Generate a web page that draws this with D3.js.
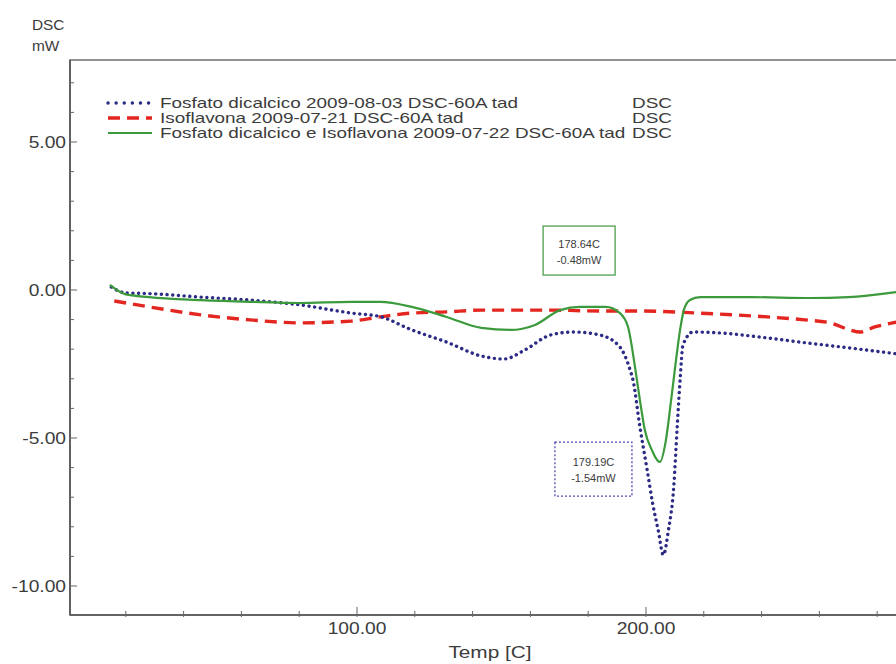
<!DOCTYPE html>
<html>
<head>
<meta charset="utf-8">
<script src="https://cdn.jsdelivr.net/npm/d3@7"></script>
<style>
  body { margin: 0; background: #fff; }
  text { font-family: "Liberation Sans", Arial, sans-serif; fill: #3c3c3c; }
</style>
</head>
<body>
<div id="chart"></div>
<script>
"use strict";

// DSC curves, temperature in C, heat flow in mW
const fosfatoTemp = [15, 20, 28, 46, 63, 80, 98, 108, 119, 131, 143, 151, 158, 167, 175, 184, 191, 194.5, 195.5, 197.9,
    200.4, 202.4, 204.2, 206, 207.8, 209.6, 210.8, 211.8, 212.8, 216.3, 225.6, 239.5, 253.3, 270.6, 287];
const fosfatoDSC = [0.1, -0.1, -0.12, -0.24, -0.34, -0.5, -0.78, -0.9, -1.35, -1.76, -2.23, -2.33, -2.03, -1.52, -1.42, -1.52, -1.93, -2.7, -3.04, -4.63,
    -6.08, -7.26, -8.1, -8.95, -8.1, -6.66, -4.63, -3.04, -1.86, -1.42, -1.45, -1.59, -1.76, -1.96, -2.16];

const isoTemp = [16, 28, 46, 63, 80, 98, 108, 119, 131, 143, 167, 184, 198, 218, 242, 255, 263.7, 270.6, 274, 279.2, 287];
const isoDSC = [-0.37, -0.57, -0.84, -1.01, -1.11, -1.05, -0.91, -0.78, -0.74, -0.68, -0.68, -0.71, -0.71, -0.78, -0.91, -1.01, -1.11, -1.35, -1.42, -1.25, -1.08];

const mixTemp = [14.5, 19.7, 28, 46, 63, 80, 98, 108, 119, 131, 143, 153, 161.6, 170.3, 177.2, 186, 191, 193.8, 196.2, 197.9,
    199.6, 202, 204.8, 206.9, 208.7, 210.4, 211.8, 213.1, 215.2, 218.7, 236, 257, 270, 281, 287];
const mixDSC = [0.17, -0.14, -0.24, -0.34, -0.4, -0.44, -0.4, -0.4, -0.57, -0.91, -1.28, -1.35, -1.18, -0.68, -0.57, -0.57, -0.78, -1.25, -2.6, -3.72,
    -4.73, -5.4, -5.81, -5.07, -3.72, -2.36, -1.35, -0.68, -0.34, -0.24, -0.24, -0.27, -0.24, -0.14, -0.07];

const seriesNames = [
    "Fosfato dicalcico 2009-08-03 DSC-60A tad",
    "Isoflavona 2009-07-21 DSC-60A tad",
    "Fosfato dicalcico e Isoflavona 2009-07-22 DSC-60A tad",
];
const seriesColors = ["#2b2b86", "#e3261f", "#3b9a3b"];

const yTicks = [5, 0, -5, -10];
const xTicks = [100, 200];

// peak annotation boxes (anchor temp / value, text lines)
const notes = [
    { t: 164.4, v: 2.16, lines: ["178.64C", "-0.48mW"], color: "#4f9f4f", dash: null, w: 72, h: 49 },
    { t: 168.5, v: -5.14, lines: ["179.19C", "-1.54mW"], color: "#4a4ab0", dash: "2 2", w: 77, h: 54 },
];

const W = 896;
const H = 664;
const SX = 1.2; // the source picture is stretched sideways

const svg = d3.select("#chart").append("svg")
    .attr("width", W)
    .attr("height", H);

const x = d3.scaleLinear().domain([0.69, 287.9]).range([70, 900]);
const y = d3.scaleLinear().domain([-10.98, 7.77]).range([615, 60]);

function label(parent, px, py, txt, anchor, size, sx = SX) {
    return parent.append("g")
        .attr("transform", `translate(${px},${py}) scale(${sx},1)`)
        .append("text")
        .attr("text-anchor", anchor)
        .attr("font-size", size)
        .text(txt);
}

// frame
svg.append("rect")
    .attr("x", 70).attr("y", 60)
    .attr("width", 840).attr("height", 555)
    .attr("fill", "none")
    .attr("stroke", "#777")
    .attr("stroke-width", 1.6);
svg.append("line")
    .attr("x1", 70).attr("x2", 70).attr("y1", 60).attr("y2", 615)
    .attr("stroke", "#555").attr("stroke-width", 1.6);
svg.append("line")
    .attr("x1", 70).attr("x2", 900).attr("y1", 615).attr("y2", 615)
    .attr("stroke", "#555").attr("stroke-width", 1.6);

// y ticks
const yMinor = d3.range(-10, 8, 1);
svg.append("g").selectAll("line").data(yMinor).join("line")
    .attr("x1", 70).attr("x2", d => yTicks.includes(d) ? 77 : 74)
    .attr("y1", d => y(d)).attr("y2", d => y(d))
    .attr("stroke", "#666");
yTicks.forEach(d => label(svg, 66, y(d) + 6, d.toFixed(2), "end", 16));

// x ticks
const xMinor = d3.range(20, 281, 20);
svg.append("g").selectAll("line").data(xMinor).join("line")
    .attr("x1", d => x(d)).attr("x2", d => x(d))
    .attr("y1", d => xTicks.includes(d) ? 607 : 611).attr("y2", 617)
    .attr("stroke", "#666");
xTicks.forEach(d => label(svg, x(d), 634, d.toFixed(2), "middle", 16));

label(svg, 490, 658, "Temp  [C]", "middle", 16, 1.3);
label(svg, 32, 30, "DSC", "start", 14, 1.1);
label(svg, 32, 51, "mW", "start", 14, 1.1);

// curves
const line = d3.line()
    .x(d => x(d[0]))
    .y(d => y(d[1]))
    .curve(d3.curveMonotoneX);

const series = [
    d3.zip(fosfatoTemp, fosfatoDSC),
    d3.zip(isoTemp, isoDSC),
    d3.zip(mixTemp, mixDSC),
];
const styles = [
    { width: 3.4, dash: "0.1 5.6", cap: "round" },
    { width: 3.4, dash: "12 7", cap: "butt" },
    { width: 2.2, dash: null, cap: "butt" },
];

const plot = svg.append("g");
[1, 0, 2].forEach(i => {
    plot.append("path")
        .datum(series[i])
        .attr("d", line)
        .attr("fill", "none")
        .attr("stroke", seriesColors[i])
        .attr("stroke-width", styles[i].width)
        .attr("stroke-dasharray", styles[i].dash)
        .attr("stroke-linecap", styles[i].cap);
});

// legend
seriesNames.forEach((name, i) => {
    const ly = 103 + i * 15;
    svg.append("line")
        .attr("x1", 108).attr("x2", 152)
        .attr("y1", ly).attr("y2", ly)
        .attr("stroke", seriesColors[i])
        .attr("stroke-width", styles[i].width)
        .attr("stroke-dasharray", i === 0 ? "0.1 8" : styles[i].dash)
        .attr("stroke-linecap", styles[i].cap);
    label(svg, 160, ly + 5, name, "start", 14, 1.35);
    label(svg, 632, ly + 5, "DSC", "start", 14, 1.35);
});

// annotation boxes
notes.forEach(n => {
    const bx = x(n.t);
    const by = y(n.v);
    svg.append("rect")
        .attr("x", bx).attr("y", by)
        .attr("width", n.w).attr("height", n.h)
        .attr("fill", "#fff")
        .attr("stroke", n.color)
        .attr("stroke-width", 1.3)
        .attr("stroke-dasharray", n.dash);
    n.lines.forEach((t, k) => label(svg, bx + n.w / 2, by + n.h / 2 - 3 + k * 16, t, "middle", 10, 1.1));
});
</script>
</body>
</html>
